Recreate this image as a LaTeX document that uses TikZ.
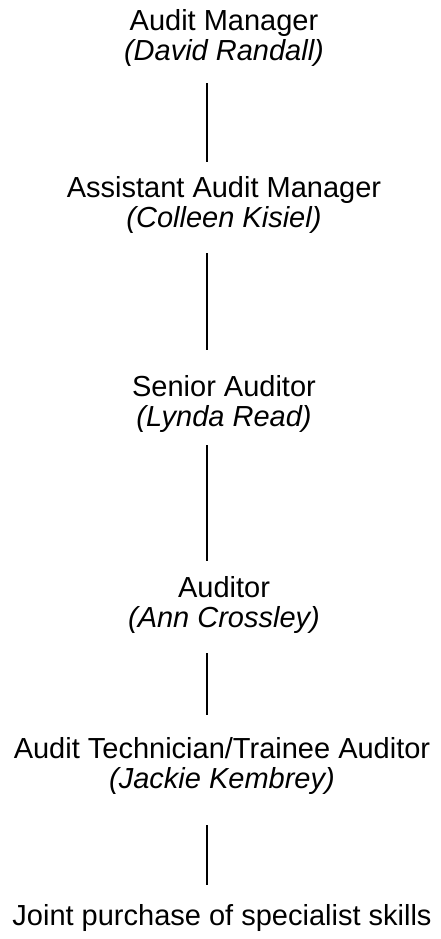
\documentclass[tikz,border=0pt]{standalone}
\usepackage{fontspec}
\setmainfont{Liberation Sans}
\usepackage{xcolor}
\usetikzlibrary{positioning,calc}
\definecolor{ChartInk}{HTML}{000000}

\begin{document}
\begin{tikzpicture}[x=1pt,y=-1pt,
  role/.style={anchor=base,inner sep=0pt,text=ChartInk,font=\fontsize{29}{30}\selectfont},
  person/.style={role,font=\fontsize{29}{30}\selectfont\itshape},
  link/.style={draw=ChartInk,line width=1.6pt}]
\useasboundingbox (0,0) rectangle (441,939);
\coordinate (spine) at (207,0);
% posts, top to bottom
\node[role] (mgr) at (224,31) {Audit Manager};
\node[person] (mgrname) at (224,61) {(David Randall)};
\node[role] (asst) at (224,197) {Assistant Audit Manager};
\node[person] (asstname) at (224,227) {(Colleen Kisiel)};
\node[role] (senior) at (224,396) {Senior Auditor};
\node[person] (seniorname) at (224,426) {(Lynda Read)};
\node[role] (auditor) at (224,597) {Auditor};
\node[person] (auditorname) at (224,627) {(Ann Crossley)};
\node[role] (tech) at (222,758) {Audit Technician/Trainee Auditor};
\node[person] (techname) at (222,788) {(Jackie Kembrey)};
\node[role] (joint) at (222,925) {Joint purchase of specialist skills};
% reporting lines
\draw[link,shorten <=16pt,shorten >=14pt] (mgrname.south -| spine) -- (asst.north -| spine);
\draw[link,shorten <=20pt,shorten >=25pt] (asstname.south -| spine) -- (senior.north -| spine);
\draw[link,shorten <=13pt,shorten >=15pt] (seniorname.south -| spine) -- (auditor.north -| spine);
\draw[link,shorten <=20pt,shorten >=22pt] (auditorname.south -| spine) -- (tech.north -| spine);
\draw[link,shorten <=31pt,shorten >=19pt] (techname.south -| spine) -- (joint.north -| spine);
\end{tikzpicture}
\end{document}
